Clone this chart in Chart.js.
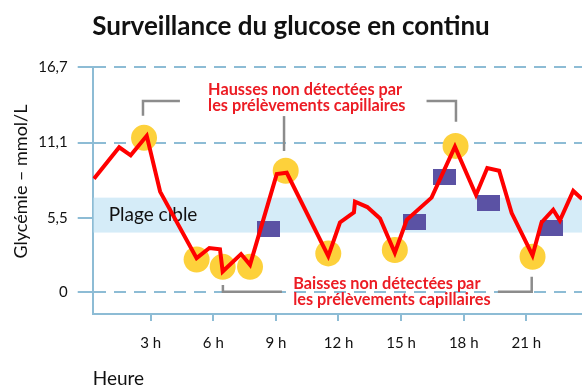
<!DOCTYPE html>
<html>
<head>
<meta charset="utf-8">
<script src="https://cdn.jsdelivr.net/npm/chart.js@4/dist/chart.umd.min.js"></script>
<style>
  html, body { margin: 0; padding: 0; background: #fff; }
  #wrap { width: 582px; height: 388px; }
</style>
</head>
<body>
<div id="wrap"><canvas id="myChart" width="582" height="388"></canvas></div>
<script>
// continuous sensor trace (hours, mmol/L)
const cgmHours  = [0.28, 1.49, 2.04, 2.81, 3.45, 5.2, 5.81, 6.32, 6.45, 7.33, 7.76, 9.04, 9.52, 11.51, 12.07, 12.74, 12.79, 13.38, 13.99, 14.7, 15.27, 16.46, 17.58, 18.59, 19.13, 19.7, 20.3, 21.3, 21.73, 22.29, 22.61, 23.25, 23.67];
const cgmValues = [8.4, 10.75, 10.15, 11.6, 7.45, 2.5, 3.25, 3.15, 1.5, 2.8, 2.0, 8.75, 8.85, 2.65, 5.15, 5.9, 6.7, 6.3, 5.45, 2.9, 5.35, 7.0, 10.8, 7.2, 9.2, 9.0, 5.85, 2.7, 5.15, 6.1, 5.3, 7.5, 6.9];

// highs and lows the finger pricks never saw
const missedHours  = [2.68, 5.2, 6.45, 7.76, 9.47, 11.51, 14.7, 17.61, 21.3];
const missedValues = [11.45, 2.4, 1.85, 1.85, 9.0, 2.85, 3.1, 10.85, 2.6];

// capillary finger-prick readings
const fingerHours  = [8.64, 15.63, 17.07, 19.18, 22.21];
const fingerValues = [4.7, 5.2, 8.5, 6.6, 4.75];

const yTicks = [0, 5.5, 11.1, 16.7];
const xTicks = [3, 6, 9, 12, 15, 18, 21];
const targetLow = 4.4;
const targetHigh = 7.0;

const gridBlue = '#8dbcd5';
const bracketGrey = '#8c8c8c';
const noteRed = '#ec1c24';

const toPoints = (xs, ys) => xs.map((x, i) => ({x: x, y: ys[i]}));

// small flat rectangle used as the finger-prick marker
const rectMark = document.createElement('canvas');
rectMark.width = 23;
rectMark.height = 16;
const rctx = rectMark.getContext('2d');
rctx.fillStyle = '#5b52a4';
rctx.fillRect(0, 0, 23, 16);

// target band, drawn over the grid but under the data
const targetBand = {
  id: 'targetBand',
  beforeDatasetsDraw(chart) {
    const {ctx, chartArea, scales: {y}} = chart;
    const top = y.getPixelForValue(targetHigh);
    const bottom = y.getPixelForValue(targetLow);
    ctx.save();
    ctx.fillStyle = '#d5ecf8';
    ctx.fillRect(chartArea.left + 1, top, chartArea.right - chartArea.left, bottom - top);
    ctx.fillStyle = '#111';
    ctx.font = '19px Lato';
    ctx.textBaseline = 'middle';
    ctx.fillText('Plage cible', chartArea.left + 16, (top + bottom) / 2);
    ctx.restore();
  }
};

// callout brackets, red notes and the vertical axis title
const notes = {
  id: 'notes',
  afterDatasetsDraw(chart) {
    const {ctx, scales: {x, y}} = chart;
    const path = (pts) => {
      ctx.beginPath();
      pts.forEach((p, i) => {
        const px = x.getPixelForValue(p[0]);
        const py = y.getPixelForValue(p[1]);
        if (i === 0) ctx.moveTo(px, py); else ctx.lineTo(px, py);
      });
      ctx.stroke();
    };
    ctx.save();
    ctx.strokeStyle = bracketGrey;
    ctx.lineWidth = 2.5;
    ctx.lineJoin = 'miter';
    path([[2.63, 13.1], [2.63, 14.19], [4.4, 14.19]]);
    path([[16.22, 14.19], [17.63, 14.19], [17.63, 12.65]]);
    path([[9.39, 13.07], [9.39, 10.47]]);
    path([[6.46, 0.5], [6.46, 0], [9.29, 0]]);
    path([[19.64, 0], [21.26, 0], [21.26, 1.12]]);

    ctx.fillStyle = noteRed;
    ctx.font = 'bold 16.3px Lato';
    ctx.textBaseline = 'alphabetic';
    let tx = x.getPixelForValue(5.75);
    ctx.fillText('Hausses non détectées par', tx, 94.5);
    ctx.fillText('les prélèvements capillaires', tx, 110.5);
    tx = x.getPixelForValue(9.83);
    ctx.fillText('Baisses non détectées par', tx, 288.5);
    ctx.fillText('les prélèvements capillaires', tx, 304.5);

    // y axis title, centred a little above the plot middle
    ctx.fillStyle = '#111';
    ctx.font = '18px Lato';
    ctx.textAlign = 'center';
    ctx.textBaseline = 'middle';
    ctx.translate(21, y.getPixelForValue(8.2));
    ctx.rotate(-Math.PI / 2);
    ctx.fillText('Glycémie – mmol/L', 0, 0);
    ctx.restore();
  }
};

const ctx = document.getElementById('myChart');
const myChart = new Chart(ctx, {
  type: 'scatter',
  data: {
    datasets: [{
      type: 'line',
      data: toPoints(cgmHours, cgmValues),
      borderColor: '#ff0000',
      borderWidth: 4,
      borderJoinStyle: 'miter',
      pointRadius: 0,
      fill: false,
      tension: 0,
      order: 0
    }, {
      data: toPoints(fingerHours, fingerValues),
      pointStyle: rectMark,
      pointRadius: 10,
      order: 1
    }, {
      data: toPoints(missedHours, missedValues),
      backgroundColor: '#fdd13b',
      borderWidth: 0,
      pointRadius: 13,
      order: 2
    }]
  },
  options: {
    responsive: false,
    devicePixelRatio: 1,
    animation: false,
    events: [],
    layout: {autoPadding: false, padding: 0},
    plugins: {
      legend: {display: false},
      tooltip: {enabled: false},
      title: {
        display: true,
        text: 'Surveillance du glucose en continu',
        color: '#111',
        font: {family: 'Lato', size: 26, weight: 'bold', lineHeight: 1.2},
        padding: {top: 11, bottom: 67.3 - 11 - 31.2}
      }
    },
    scales: {
      x: {
        type: 'linear',
        min: 0.22,
        max: 23.67,
        afterBuildTicks: (axis) => { axis.ticks = xTicks.map(v => ({value: v})); },
        afterFit: (scale) => {
          scale.height = 74;
          scale.paddingLeft = 0;
          scale.paddingRight = 0;
        },
        border: {display: true, color: gridBlue, width: 2},
        grid: {drawOnChartArea: false, drawTicks: true, tickLength: 7, color: gridBlue, lineWidth: 2},
        ticks: {
          color: '#111',
          font: {family: 'Lato', size: 15},
          padding: 13,
          maxRotation: 0,
          callback: (v) => v + ' h'
        },
        title: {
          display: true,
          text: 'Heure',
          align: 'start',
          color: '#111',
          font: {family: 'Lato', size: 19, lineHeight: 1},
          padding: {top: 0, bottom: 0}
        }
      },
      y: {
        min: -1.66,
        max: 16.7,
        afterBuildTicks: (axis) => { axis.ticks = yTicks.map(v => ({value: v})); },
        afterFit: (scale) => { scale.width = 92.7; },
        border: {display: true, color: gridBlue, width: 2, dash: [12, 8]},
        grid: {drawOnChartArea: true, drawTicks: true, tickLength: 15, color: gridBlue, lineWidth: 2},
        ticks: {
          color: '#111',
          font: {family: 'Lato', size: 15},
          padding: 10,
          callback: (v) => String(v).replace('.', ',')
        }
      }
    }
  },
  plugins: [targetBand, notes]
});
</script>
</body>
</html>
